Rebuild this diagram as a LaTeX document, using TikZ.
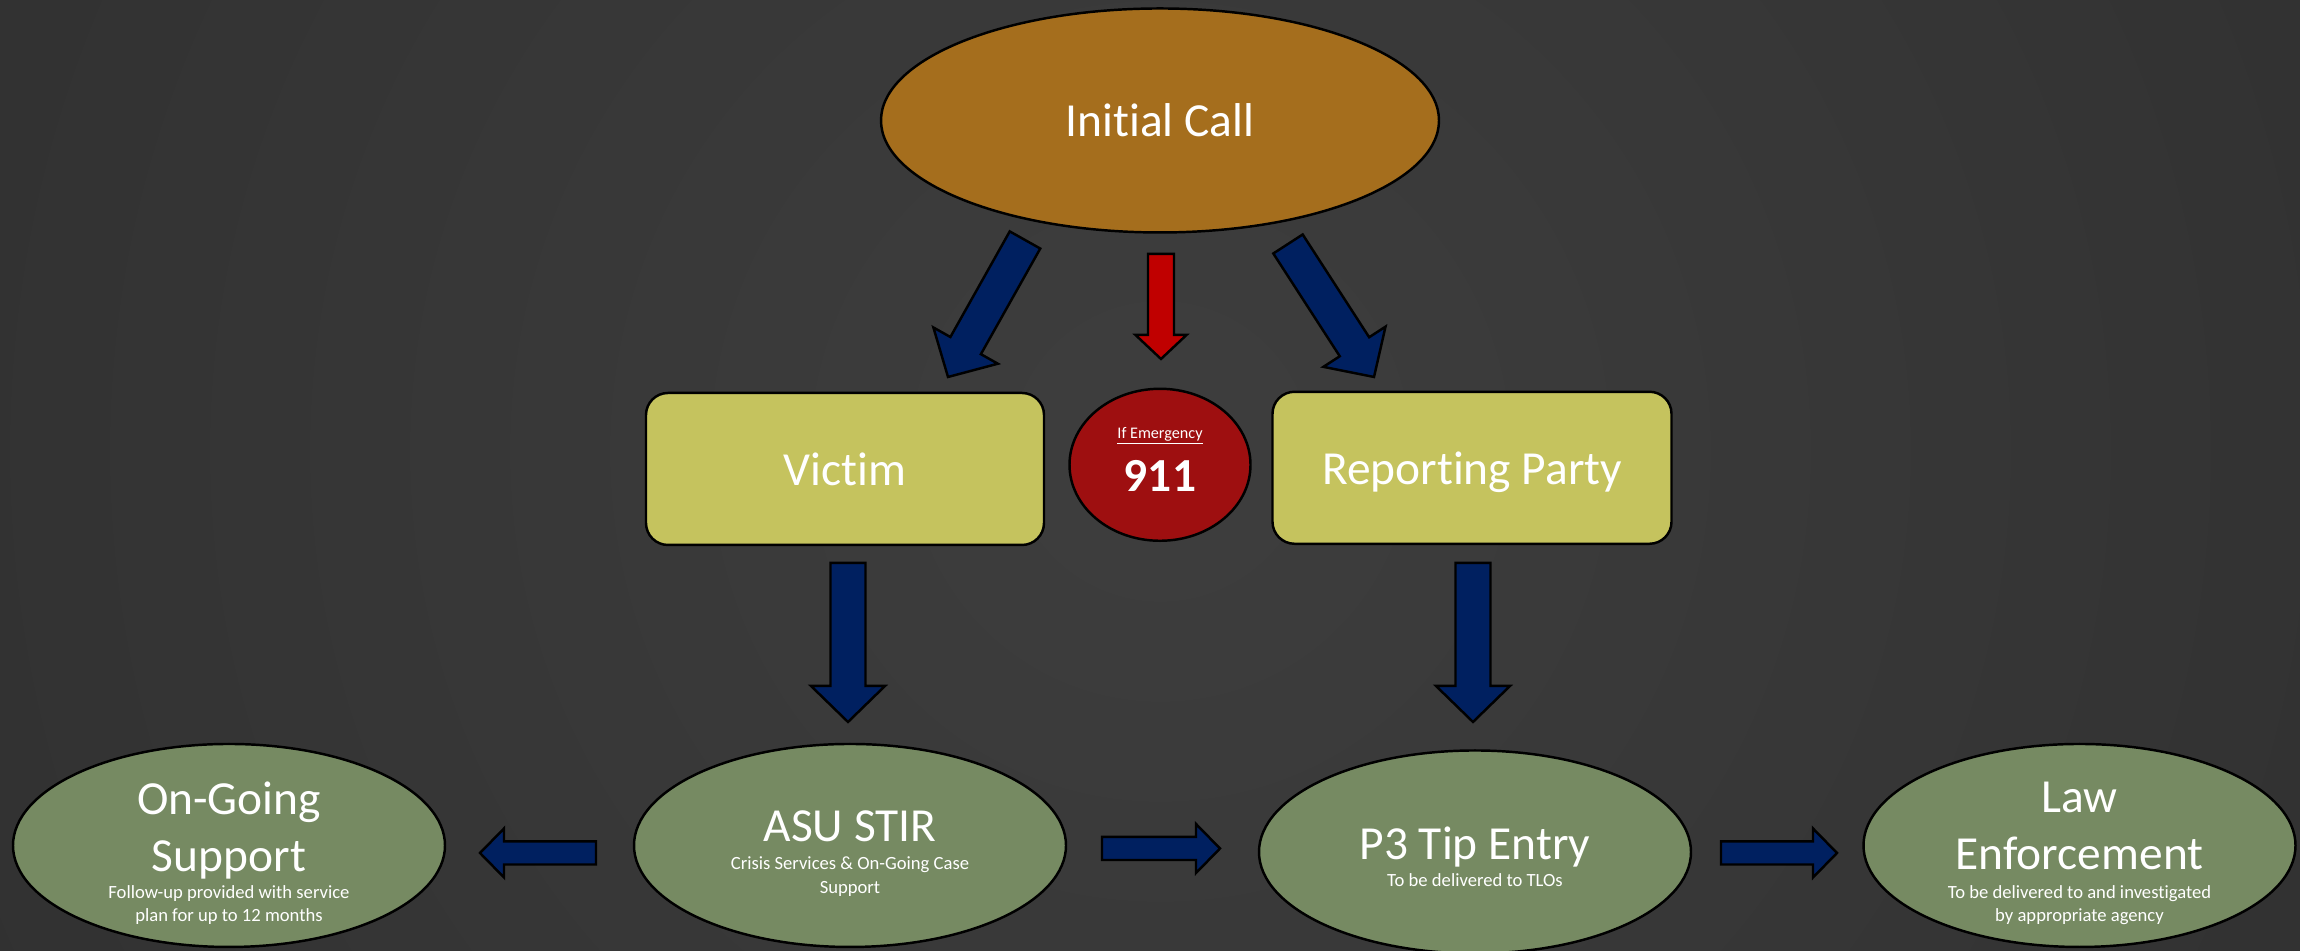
\documentclass[tikz,border=0pt]{standalone}
\usepackage{fontspec}
\setmainfont{Carlito}[Ligatures=NoCommon]
\usetikzlibrary{shapes.geometric}
\usetikzlibrary{calc}
\definecolor{bg1}{RGB}{62, 62, 62}
\definecolor{bg2}{RGB}{36, 36, 36}
\definecolor{brown1}{RGB}{165, 110, 29}
\definecolor{yellow1}{RGB}{197, 195, 94}
\definecolor{red1}{RGB}{158, 15, 16}
\definecolor{red2}{RGB}{192, 0, 0}
\definecolor{green1}{RGB}{118, 138, 98}
\definecolor{blue1}{RGB}{0, 32, 96}

\newcommand{\bigtxt}{\fontsize{13.5}{16.2}\selectfont}
\newcommand{\smalltxt}{\fontsize{5.3}{6.7}\selectfont}
\newcommand{\tinytxt}{\fontsize{4.6}{5.5}\selectfont}

% block arrow: style, from, to, half shaft, half head, head length
\newcommand{\blockarrow}[6]{%
  \coordinate (ba) at ($(#3)!#6!(#2)$);
  \draw[#1] ($(#2)!#4!90:(#3)$) -- ($(ba)!#4!90:(#3)$) -- ($(ba)!#5!90:(#3)$)
    -- (#3) -- ($(ba)!#5!-90:(#3)$) -- ($(ba)!#4!-90:(#3)$) -- ($(#2)!#4!-90:(#3)$) -- cycle;}

\begin{document}
\begin{tikzpicture}[line width=0.7pt,
  oval/.style={ellipse, draw=black, inner sep=0pt},
  greenoval/.style={oval, fill=green1, minimum width=4.32cm, minimum height=2.03cm},
  box/.style={rectangle, rounded corners=0.22cm, draw=black, fill=yellow1,
    minimum width=3.98cm, minimum height=1.52cm, text depth=0pt, text=white, font=\bigtxt},
  headtext/.style={text=white, font=\bigtxt, align=center, inner sep=0pt},
  notetext/.style={text=white, font=\smalltxt, align=center, inner sep=0pt},
  bluearrow/.style={draw=black, fill=blue1},
  redarrow/.style={draw=black, fill=red2}]

  % background
  \useasboundingbox (0,0) rectangle (23,9.51);
  \shade[inner color=bg1, outer color=bg2] (11.6,5.0) circle (26cm);

  \node[oval, fill=brown1, minimum width=5.58cm, minimum height=2.24cm, text=white, font=\bigtxt] (call) at (11.60,8.305) {Initial Call};

  \node[box] (victim) at (8.45,4.82) {Victim};
  \node[oval, fill=red1, minimum width=1.81cm, minimum height=1.52cm] (sos) at (11.60,4.862) {};
  \node[box, minimum width=3.99cm] (party) at (14.72,4.832) {Reporting Party};
  \node[notetext, font=\tinytxt] (sos-t) at ([yshift=0.28cm]sos.center) {\underline{\raisebox{0pt}[\height][0pt]{If Emergency}}};
  \node[headtext, font=\bigtxt\bfseries] (sos-n) at ([yshift=-0.112cm]sos.center) {911};

  \node[greenoval] (ongoing) at (2.29,1.055) {};
  \node[greenoval] (asu) at (8.50,1.055) {};
  \node[greenoval] (tip) at (14.75,0.99) {};
  \node[greenoval] (law) at (20.795,1.055) {};

  \node[headtext] (ongoing-t) at ([yshift=0.15cm]ongoing.center) {On-Going\\Support};
  \node[notetext] (ongoing-n) at ([yshift=-0.595cm]ongoing.center) {Follow-up provided with service\\plan for up to 12 months};
  \node[headtext] (asu-t) at ([yshift=0.195cm]asu.center) {ASU STIR};
  \node[notetext] (asu-n) at ([yshift=-0.31cm]asu.center) {Crisis Services \& On-Going Case\\Support};
  \node[headtext] (tip-t) at ([yshift=0.05cm]tip.center) {P3 Tip Entry};
  \node[notetext] (tip-n) at ([yshift=-0.285cm]tip.center) {To be delivered to TLOs};
  \node[headtext] (law-t) at ([yshift=0.195cm]law.center) {Law\\Enforcement};
  \node[notetext] (law-n) at ([yshift=-0.595cm]law.center) {To be delivered to and investigated\\by appropriate agency};

  % arrow ends
  \coordinate (cv1) at (10.25,7.11);  \coordinate (cv2) at (9.48,5.74);
  \coordinate (ce1) at (11.61,6.97);  \coordinate (ce2) at (11.61,5.92);
  \coordinate (cp1) at (12.88,7.07);  \coordinate (cp2) at (13.74,5.74);
  \coordinate (va1) at (8.48,3.88);   \coordinate (va2) at (8.48,2.29);
  \coordinate (pt1) at (14.73,3.88);  \coordinate (pt2) at (14.73,2.29);
  \coordinate (ao1) at (5.96,0.98);   \coordinate (ao2) at (4.80,0.98);
  \coordinate (at1) at (11.02,1.025); \coordinate (at2) at (12.20,1.025);
  \coordinate (tl1) at (17.21,0.98);  \coordinate (tl2) at (18.37,0.98);

  \foreach \from/\to in {cv1/cv2, cp1/cp2, va1/va2, pt1/pt2}
    {\blockarrow{bluearrow}{\from}{\to}{0.175cm}{0.37cm}{0.36cm}}
  \foreach \from/\to in {ao1/ao2, at1/at2, tl1/tl2}
    {\blockarrow{bluearrow}{\from}{\to}{0.115cm}{0.245cm}{0.24cm}}
  \blockarrow{redarrow}{ce1}{ce2}{0.13cm}{0.255cm}{0.24cm}
\end{tikzpicture}
\end{document}
